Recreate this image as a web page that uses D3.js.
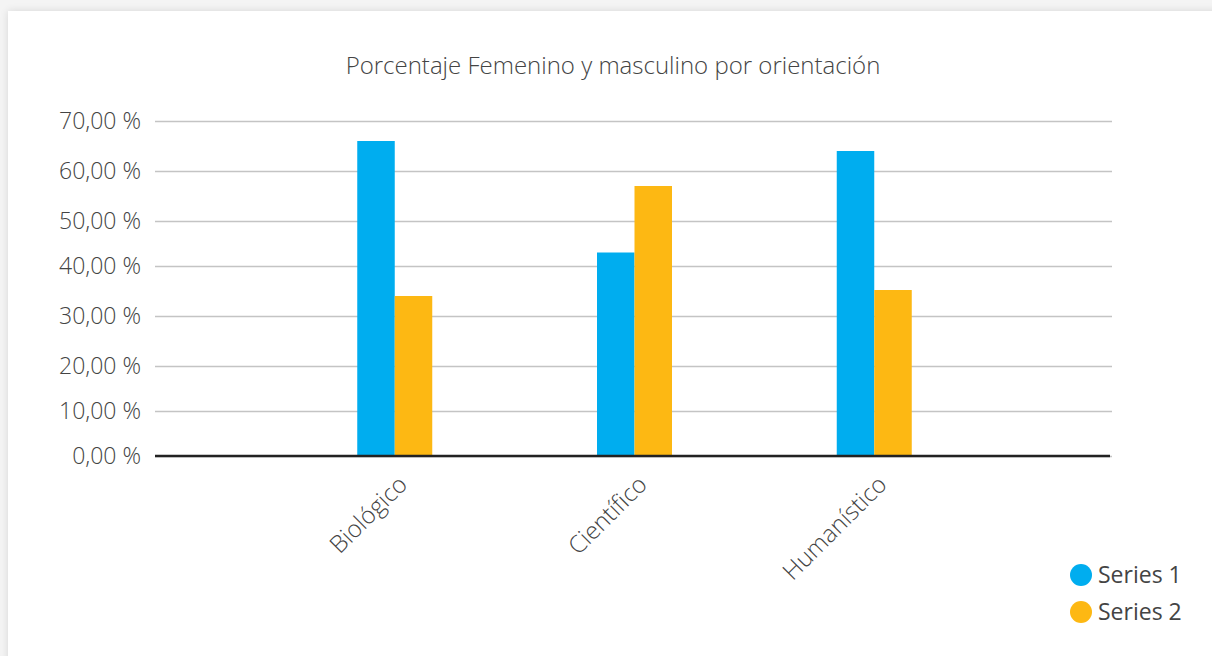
<!DOCTYPE html>
<html>
<head>
<meta charset="utf-8">
<script src="https://cdn.jsdelivr.net/npm/d3@7"></script>
<style>
  body { margin: 0; background: #f4f4f4; }
  #card {
    position: absolute; left: 8px; top: 11px; width: 1220px; height: 660px;
    background: #fff; box-shadow: 0 0 8px rgba(0,0,0,0.12);
  }
  svg { position: absolute; left: 0; top: 0; }
  text { font-family: "Open Sans", "Lato", sans-serif; font-weight: 300; fill: #444; }
</style>
</head>
<body>
<div id="card"></div>
<div id="chart-container"></div>
<script>
const width = 1212;
const height = 656;

const title = "Porcentaje Femenino y masculino por orientación";
const categories = ["Biológico", "Científico", "Humanístico"];
const seriesNames = ["Series 1", "Series 2"];
const series1 = [66, 43, 64];
const series2 = [34, 57, 35.2];
const yTicks = [0, 10, 20, 30, 40, 50, 60, 70];
const colors = ["#00adef", "#fdb813"];

const svg = d3.select("#chart-container").append("svg")
  .attr("width", width)
  .attr("height", height);

// gridlines in the original are not evenly spaced, so map tick by tick
const y = d3.scaleLinear()
  .domain(yTicks)
  .range([456, 411, 366, 316, 266, 221, 171, 121]);

const x = d3.scalePoint()
  .domain(categories)
  .range([155, 1114])
  .padding(1);

const x1 = d3.scaleBand()
  .domain(seriesNames)
  .range([-37.5, 37.5]);

//Title
svg.append("text")
  .attr("x", 613)
  .attr("y", 74)
  .attr("text-anchor", "middle")
  .style("font-size", "24px")
  .text(title);

//Grid + y labels
const yAxis = g => g
  .attr("transform", `translate(155,0)`)
  .call(d3.axisLeft(y).tickValues(yTicks).tickSize(-957).tickPadding(14)
    .tickFormat(d => d3.format(".2f")(d).replace(".", ",") + " %"))
  .call(g => g.select(".domain").remove())
  .call(g => g.selectAll(".tick line").attr("stroke", "#c4c4c4").attr("stroke-width", 1.5))
  .call(g => g.selectAll(".tick text").attr("fill", "#444")
    .style("font-size", "23px").style("font-family", null));

svg.append("g").call(yAxis);

//Bars
const rows = categories.map((c, i) => ({ cat: c, values: [series1[i], series2[i]] }));

const groups = svg.append("g")
  .selectAll("g")
  .data(rows)
  .join("g")
  .attr("transform", d => `translate(${x(d.cat)},0)`);

groups.selectAll("rect")
  .data(d => d.values.map((v, j) => ({ key: seriesNames[j], value: v, j: j })))
  .join("rect")
  .attr("x", d => x1(d.key))
  .attr("width", x1.bandwidth())
  .attr("y", d => y(d.value))
  .attr("height", d => y(0) - y(d.value) + 1)
  .attr("fill", d => colors[d.j]);

//Baseline
svg.append("line")
  .attr("x1", 155).attr("x2", 1110)
  .attr("y1", y(0)).attr("y2", y(0))
  .attr("stroke", "#222")
  .attr("stroke-width", 2.5);

//x labels
svg.append("g")
  .selectAll("text")
  .data(categories)
  .join("text")
  .attr("transform", d => `translate(${x(d) + 8},480) rotate(-45)`)
  .attr("text-anchor", "end")
  .attr("dy", "0.35em")
  .style("font-size", "24px")
  .text(d => d);

//Legend
const legend = svg.append("g")
  .selectAll("g")
  .data(seriesNames)
  .join("g")
  .attr("transform", (d, i) => `translate(1081,${575 + i * 37})`);

legend.append("circle")
  .attr("r", 11)
  .attr("fill", (d, i) => colors[i]);

legend.append("text")
  .attr("x", 17)
  .attr("dy", "0.35em")
  .style("font-size", "23px")
  .style("font-weight", 400)
  .text(d => d);
</script>
</body>
</html>
